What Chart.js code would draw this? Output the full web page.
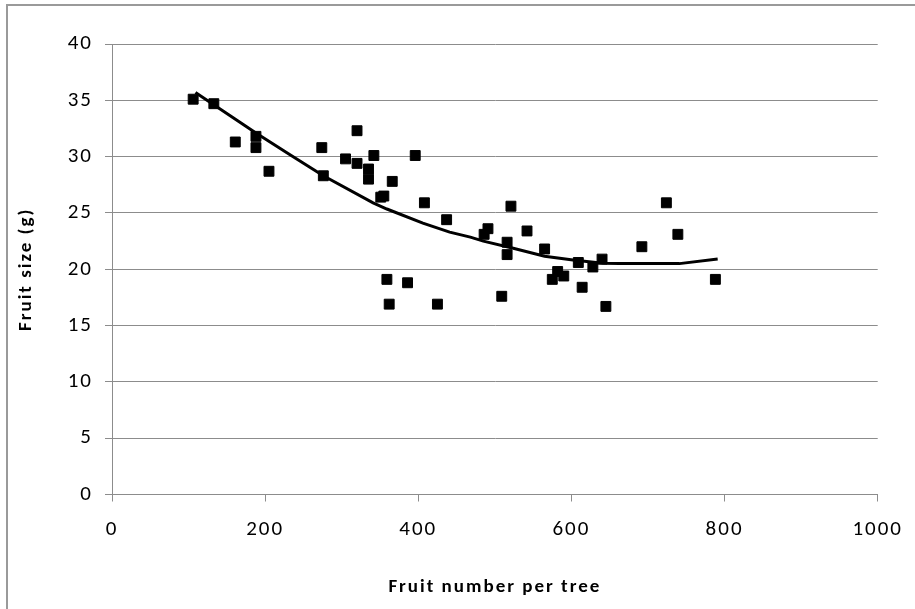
<!DOCTYPE html>
<html>
<head>
<meta charset="utf-8">
<script src="https://cdn.jsdelivr.net/npm/chart.js@4/dist/chart.umd.min.js"></script>
<style>
  body { margin: 0; background: #fff; overflow: hidden; }
  #wrap { position: relative; width: 915px; height: 609px; overflow: hidden; }
  #frame { position: absolute; left: 6px; top: 4px; width: 1000px; height: 1000px; border: 2px solid #9a9a9a; }
  #myChart { position: absolute; left: 0; top: 0; }
</style>
</head>
<body>
<div id="wrap">
  <div id="frame"></div>
  <canvas id="myChart" width="915" height="609"></canvas>
</div>
<script>
// fruit number per tree vs. fruit size, one point per tree
const fruitNumber = [106, 133, 161, 188, 188, 205, 274, 276, 305, 320, 320, 335, 335, 342, 351, 355,
  366, 396, 408, 437, 359, 386, 362, 425, 486, 491, 516, 516, 521, 542, 509, 565, 575, 582,
  590, 609, 614, 628, 640, 645, 692, 724, 739, 788];
const fruitSize = [35.1, 34.7, 31.3, 31.8, 30.8, 28.7, 30.8, 28.3, 29.8, 29.4, 32.3, 28.9, 28.0, 30.1, 26.4, 26.5,
  27.8, 30.1, 25.9, 24.4, 19.1, 18.8, 16.9, 16.9, 23.1, 23.6, 22.4, 21.3, 25.6, 23.4, 17.6, 21.8, 19.1, 19.8,
  19.4, 20.6, 18.4, 20.2, 20.9, 16.7, 22.0, 25.9, 23.1, 19.1];

// fitted trend
const trendX = [109, 188, 233, 276, 341, 359, 406, 441, 468, 485, 524, 565, 602, 641, 663, 741, 791];
const trendY = [35.7, 32.1, 30.15, 28.3, 25.9, 25.35, 24.1, 23.3, 22.85, 22.5, 21.86, 21.15, 20.83, 20.53, 20.5, 20.5, 20.9];

const xTicks = [0, 200, 400, 600, 800, 1000];
const yTicks = [0, 5, 10, 15, 20, 25, 30, 35, 40];

const gray = '#8c8c8c';
const tickFont = { family: 'Carlito, Lato, "Open Sans", sans-serif', size: 21 };
const titleFont = { family: 'Carlito, Lato, "Open Sans", sans-serif', size: 19, weight: 'bold' };

const spacing = {
  id: 'spacing',
  beforeDraw(chart) { chart.ctx.letterSpacing = '2px'; }
};

new Chart(document.getElementById('myChart').getContext('2d'), {
  type: 'scatter',
  data: {
    datasets: [
      {
        type: 'line',
        data: trendX.map((x, i) => ({ x, y: trendY[i] })),
        borderColor: '#000',
        borderWidth: 3,
        pointRadius: 0,
        fill: false,
        tension: 0
      },
      {
        data: fruitNumber.map((x, i) => ({ x, y: fruitSize[i] })),
        pointStyle: 'rect',
        pointRadius: 7,
        borderWidth: 1,
        backgroundColor: '#000',
        borderColor: '#000'
      }
    ]
  },
  plugins: [spacing],
  options: {
    responsive: false,
    animation: false,
    devicePixelRatio: 1,
    layout: { padding: { left: 0, top: 44, right: 36, bottom: 0 } },
    plugins: { legend: { display: false }, tooltip: { enabled: false } },
    scales: {
      x: {
        type: 'linear',
        min: 0, max: 1000,
        afterBuildTicks: s => { s.ticks = xTicks.map(v => ({ value: v })); },
        afterFit: s => { s.height = 114.5; },
        grid: { drawOnChartArea: false, drawTicks: true, tickLength: 7, color: gray },
        border: { color: gray, width: 1 },
        ticks: { color: '#000', font: tickFont, padding: 16, maxRotation: 0, callback: v => String(v) },
        title: { display: true, text: 'Fruit number per tree', color: '#000', font: titleFont, padding: { top: 0, bottom: 10 } }
      },
      y: {
        min: 0, max: 40,
        afterBuildTicks: s => { s.ticks = yTicks.map(v => ({ value: v })); },
        afterFit: s => { s.width = 112; },
        grid: { color: gray, lineWidth: 1, tickLength: 7 },
        border: { color: gray, width: 1 },
        ticks: { color: '#000', font: tickFont, padding: 12, callback: v => String(v) },
        title: { display: true, text: 'Fruit size (g)', color: '#000', font: titleFont, padding: { top: 15, bottom: 0 } }
      }
    }
  }
});
</script>
</body>
</html>
